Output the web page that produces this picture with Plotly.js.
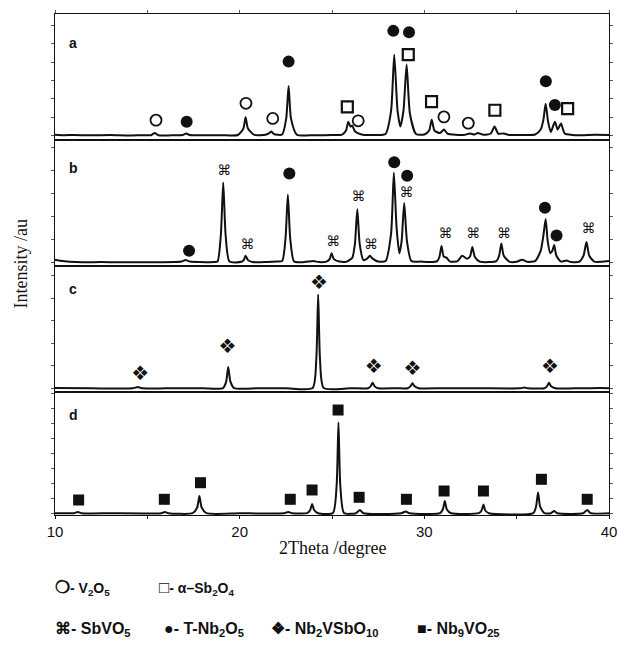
<!DOCTYPE html>
<html>
<head>
<meta charset="utf-8">
<script src="https://cdn.plot.ly/plotly-3.0.1.min.js"></script>
<style>html,body{margin:0;padding:0;background:#fff;}#chart{width:619px;height:665px;}</style>
</head>
<body>
<div id="chart"></div>
<script>
// ---- Pattern a ----
const aTheta = [10,10.5,11,12,13,14,14.8,15.2,15.4,15.6,16.3,16.9,17.1,17.3,18,19,19.9,20.2,20.32,20.45,20.8,21.4,21.6,21.72,21.85,22.3,22.52,22.65,22.78,23.1,24,25,25.55,25.76,25.88,26.0,26.1,26.25,26.6,27.3,27.9,28.2,28.37,28.55,28.7,28.87,29.04,29.22,29.55,30.0,30.26,30.4,30.55,30.85,31.06,31.25,31.7,32.2,32.47,32.7,32.9,33.2,33.6,33.8,34.0,34.3,34.6,35.3,36.0,36.3,36.45,36.57,36.7,36.85,37.07,37.22,37.4,37.6,38.0,38.6,39.2,40];
const aInt   = [0.8,0.3,0.6,0.2,0.5,0.0,0.4,0.3,2.5,0.3,0.2,0.5,2,0.5,0.2,0.4,0.5,7,18.5,7,0.6,0.8,2.5,4,1.5,1,17,50,17,0.8,0.3,0.5,1,5,14,9,10,4,1,0.5,1.5,25,81.5,25,9,25,71.5,22,1.5,1,5,16,5,2.5,6,2,0.8,0.8,2,1,2.5,0.8,2,9,2,2,0.6,0.5,1,6,16,32,14,3.5,14,6,12,2,0.6,0.4,0.7,0.5];

// ---- Pattern b ----
const bTheta = [10,10.3,10.8,11.5,12.5,13.5,14.5,15.5,16.5,16.85,17.07,17.3,17.8,18.6,18.8,18.98,19.11,19.24,19.45,20.1,20.22,20.32,20.45,20.7,21.5,22.0,22.3,22.48,22.61,22.74,22.95,23.5,24.0,24.3,24.7,24.87,24.98,25.1,25.4,25.8,26.1,26.24,26.37,26.5,26.7,26.9,27.05,27.2,27.5,27.9,28.2,28.35,28.5,28.65,28.77,28.91,29.06,29.3,29.8,30.3,30.7,30.82,30.93,31.05,31.2,31.4,31.8,32.05,32.3,32.47,32.6,32.73,33.0,33.5,33.9,34.05,34.17,34.3,34.6,35.0,35.3,35.55,36.0,36.3,36.45,36.57,36.68,36.82,36.93,37.03,37.15,37.4,37.7,37.95,38.4,38.62,38.78,38.93,39.2,39.6,40];
const bInt   = [3,1.8,0.8,0.3,0.5,0.2,0.4,0.3,0.5,1,2.5,1,0.5,0.6,1,28,82,28,1,0.8,2.5,7,2.5,0.5,0.6,1,1.5,24,69.5,24,1,0.5,1.5,0.5,1,3.5,9.5,3.5,1,1,5,19,54.5,19,2.5,4,7,4,1,1.5,30,92,35,9.5,22,61,22,1.5,1,0.5,1.5,6,17,6,5,1,1.5,7,4,6,16,6,1,0.5,1.5,7,19.5,7,1,0.8,3,0.8,1.5,12,28,44.5,22,9.5,12,18,7,1,2,0.5,1,7,21,7,1,0.8,1.5];

// ---- Pattern c ----
const cTheta = [10,12,14.2,14.48,14.75,16,18,19.1,19.27,19.38,19.5,19.7,21,22.5,23.95,24.15,24.25,24.35,24.55,26,26.95,27.1,27.2,27.3,27.5,28.5,29.1,29.26,29.36,29.46,29.7,31,33,35.2,35.42,35.6,36.5,36.65,36.75,36.85,37.1,38.5,39.5,40];
const cInt   = [0.5,0.2,0.2,1.5,0.2,0.2,0.3,0.5,7,22,7,0.5,0.3,0.3,0.5,30,95.5,30,0.5,0.3,0.3,2.5,6,2.5,0.3,0.3,0.3,2.5,5.5,2.5,0.3,0.3,0.3,0.3,1,0.3,0.3,2.5,6,2.5,0.3,0.3,0.5,0.3];

// ---- Pattern d ----
const dTheta = [10,11.0,11.24,11.45,13,15.75,15.96,16.15,17.45,17.7,17.82,17.94,18.2,20,22.4,22.64,22.85,23.65,23.82,23.92,24.03,24.25,25.05,25.25,25.35,25.45,25.65,26.3,26.51,26.7,28.75,28.99,29.2,30.85,31.0,31.11,31.22,31.45,32.95,33.1,33.2,33.3,33.5,35.9,36.05,36.16,36.27,36.5,36.85,37.03,37.2,38.6,38.82,39.0,40];
const dInt   = [0.3,0.3,1.5,0.3,0.2,0.3,1.5,0.3,0.3,6,17.5,6,0.3,0.2,0.3,1.5,0.3,0.3,3.5,9.5,3.5,0.3,0.5,28,91,28,0.5,0.3,3.5,0.3,0.3,2,0.3,0.3,4,12.5,4,0.3,0.3,3,9,3,0.3,0.3,7,21,7,0.3,0.3,2.5,0.3,0.3,3.5,0.3,0.3];

// ---- Phase markers ----
const aV2O5Theta = [15.47,20.34,21.79,26.42,31.06,32.38];
const aV2O5Int   = [15.5,32.5,17.2,14.8,18.8,12.5];
const aTNbTheta  = [17.13,22.65,28.32,29.17,36.58,37.07];
const aTNbInt    = [13.8,74.5,105.5,104.2,54.8,30.8];
const aSb2O4Theta= [25.83,29.13,30.39,33.82,37.76];
const aSb2O4Int  = [28.8,81.5,34.2,25.5,27.2];
const bSbVO5Theta= [19.17,20.43,25.07,26.44,27.11,29.04,31.15,32.65,34.31,38.89];
const bSbVO5Int  = [92.8,17.8,20.5,66.2,17.8,71.2,28.8,28.8,28.8,33.8];
const bTNbTheta  = [17.26,22.69,28.37,29.07,36.53,37.16];
const bTNbInt    = [12.2,91.2,102.8,88.8,56.2,27.8];
const cNbVSbTheta= [14.62,19.34,24.3,27.26,29.36,36.8];
const cNbVSbInt  = [13.5,41.5,106.5,20.5,18.8,20.5];
const dNb9Theta  = [11.28,15.92,17.88,22.74,23.92,25.33,26.47,29.03,31.07,33.2,36.34,38.82];
const dNb9Int    = [13.5,14.2,30.8,14.2,23.5,103.5,16.2,14.2,22.5,22.5,34.2,14.2];

// ---- Labels ----
const panelLabels = ['a','b','c','d'];
const xTitle = '2Theta /degree';
const yTitle = 'Intensity /au';
const legendRow1 = ['<span style="font-size:17px">❍</span>- V<sub>2</sub>O<sub>5</sub>',
                    '<span style="font-size:17px">□</span>- α–Sb<sub>2</sub>O<sub>4</sub>'];
const legendRow2 = ['⌘- SbVO<sub>5</sub>', '●- T-Nb<sub>2</sub>O<sub>5</sub>',
                    '❖- Nb<sub>2</sub>VSbO<sub>10</sub>', '■- Nb<sub>9</sub>VO<sub>25</sub>'];

const INK = '#111';
const lineStyle = {color: INK, width: 2, shape: 'spline', smoothing: 0.6};
function curve(x, y, ax) {
  return {x: x, y: y, xaxis: 'x' + ax, yaxis: 'y' + ax, type: 'scatter', mode: 'lines', line: lineStyle, hoverinfo: 'skip'};
}
function marks(x, y, ax, marker) {
  return {x: x, y: y, xaxis: 'x' + ax, yaxis: 'y' + ax, type: 'scatter', mode: 'markers', marker: marker, hoverinfo: 'skip'};
}
function glyphs(x, y, ax, ch, size) {
  return {x: x, y: y, xaxis: 'x' + ax, yaxis: 'y' + ax, type: 'scatter', mode: 'text',
    text: x.map(() => ch), textposition: 'middle center',
    textfont: {family: 'DejaVu Sans', size: size, color: INK}, hoverinfo: 'skip'};
}

const filledCircle = {symbol: 'circle', size: 12, color: INK, line: {width: 0}};
const openCircle = {symbol: 'circle', size: 11, color: '#fff', line: {width: 1.8, color: INK}};
const openSquare = {symbol: 'square', size: 11, color: '#fff', line: {width: 2.2, color: INK}};
const filledSquare = {symbol: 'square', size: 11, color: INK, line: {width: 0}};

const traces = [
  curve(aTheta, aInt, ''),
  curve(bTheta, bInt, '2'),
  curve(cTheta, cInt, '3'),
  curve(dTheta, dInt, '4'),
  marks(aV2O5Theta, aV2O5Int, '', openCircle),
  marks(aTNbTheta, aTNbInt, '', filledCircle),
  marks(aSb2O4Theta, aSb2O4Int, '', openSquare),
  glyphs(bSbVO5Theta, bSbVO5Int, '2', '⌘', 14),
  marks(bTNbTheta, bTNbInt, '2', filledCircle),
  glyphs(cNbVSbTheta, cNbVSbInt, '3', '❖', 20),
  marks(dNb9Theta, dNb9Int, '4', filledSquare)
];

const frame = {showline: true, linecolor: INK, linewidth: 1.2, mirror: true, zeroline: false, showgrid: false};
function xAx(domainAnchor, opts) {
  return Object.assign({}, frame, {range: [10, 40], anchor: domainAnchor, ticks: '', showticklabels: false}, opts);
}
function yAx(domain, range, dtick, anchor) {
  return Object.assign({}, frame, {domain: domain, range: range, anchor: anchor, ticks: 'outside', ticklen: 3, tickwidth: 1,
    tickcolor: '#555', tick0: 0, dtick: dtick, showticklabels: false, mirror: 'ticks'});
}

const layout = {
  width: 619, height: 665,
  margin: {l: 55, r: 10, t: 14, b: 150},
  paper_bgcolor: '#fff', plot_bgcolor: '#fff',
  showlegend: false,
  font: {family: 'Liberation Sans, Arial, sans-serif', color: INK},
  xaxis: xAx('y', {side: 'top', ticks: 'outside', ticklen: 3, tickwidth: 1, tickcolor: '#555', dtick: 5, tick0: 10}),
  xaxis2: xAx('y2', {matches: 'x'}),
  xaxis3: xAx('y3', {matches: 'x'}),
  xaxis4: xAx('y4', {matches: 'x', side: 'bottom', ticks: 'outside', ticklen: 3, tickwidth: 1, tickcolor: INK,
    dtick: 10, tick0: 10, showticklabels: true, tickfont: {size: 15, family: 'Liberation Sans, Arial', color: INK},
    minor: {dtick: 5, ticks: 'outside', ticklen: 3, tickcolor: INK}}),
  yaxis: yAx([0.7505, 1], [-3.5, 122.5], 18.5, 'x'),
  yaxis2: yAx([0.499, 0.7465], [-2.5, 124.5], 23.5, 'x2'),
  yaxis3: yAx([0.2475, 0.495], [-2.5, 123.5], 23, 'x3'),
  yaxis4: yAx([0, 0.2435], [-1.5, 120.5], 15, 'x4'),
  annotations: []
};

const labelY = [0.942, 0.6926, 0.451, 0.1996];
panelLabels.forEach((t, i) => layout.annotations.push({
  xref: 'paper', yref: 'paper', x: 0.022, y: labelY[i], xanchor: 'left', yanchor: 'middle',
  text: '<b>' + t + '</b>', showarrow: false, font: {size: 14, family: 'Liberation Sans, Arial', color: INK}
}));
layout.annotations.push({xref: 'paper', yref: 'paper', x: 0.5, y: -0.066, xanchor: 'center', yanchor: 'middle',
  text: xTitle, showarrow: false, font: {size: 18, family: 'Liberation Serif, Times New Roman, serif', color: INK}});
layout.annotations.push({xref: 'paper', yref: 'paper', x: -0.063, y: 0.5, xanchor: 'center', yanchor: 'middle',
  text: yTitle, textangle: -90, showarrow: false, font: {size: 18, family: 'Liberation Serif, Times New Roman, serif', color: INK}});
const row1X = [-0.004, 0.184];
legendRow1.forEach((t, i) => layout.annotations.push({xref: 'paper', yref: 'paper', x: row1X[i], y: -0.146,
  xanchor: 'left', yanchor: 'middle', text: '<b>' + t + '</b>', showarrow: false,
  font: {size: 14, family: 'Liberation Sans, Arial', color: INK}}));
const row2X = [-0.004, 0.193, 0.386, 0.65];
legendRow2.forEach((t, i) => layout.annotations.push({xref: 'paper', yref: 'paper', x: row2X[i], y: -0.2295,
  xanchor: 'left', yanchor: 'middle', text: '<b>' + t + '</b>', showarrow: false,
  font: {size: 16, family: 'Liberation Sans, Arial', color: INK}}));

Plotly.newPlot('chart', traces, layout, {displayModeBar: false, staticPlot: true});
</script>
</body>
</html>
